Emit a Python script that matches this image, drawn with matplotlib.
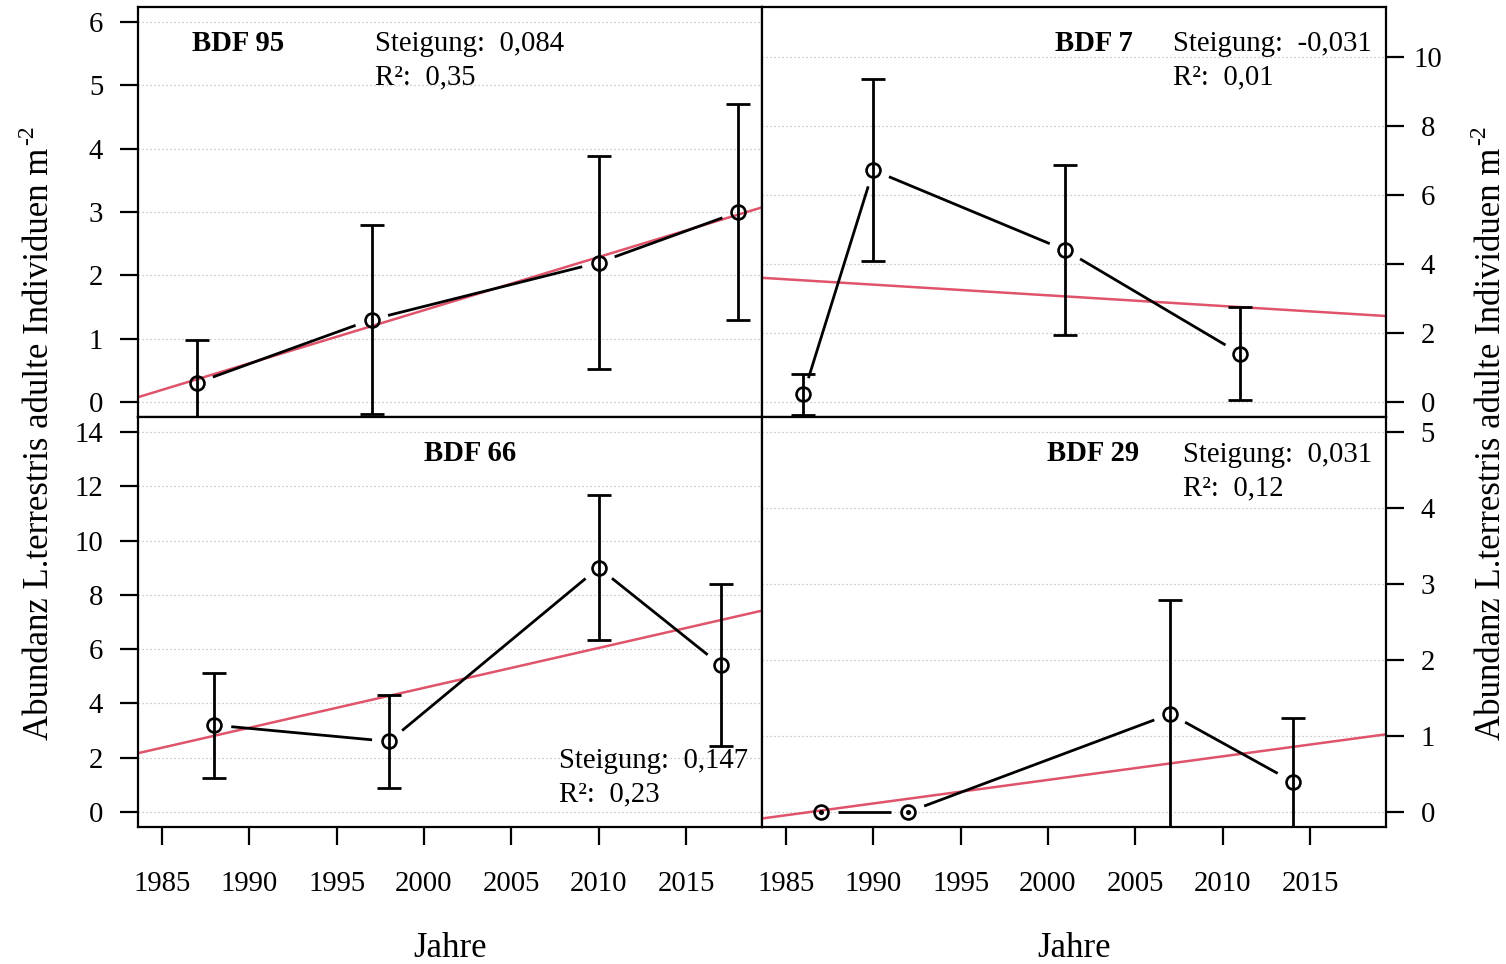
import numpy as np
import matplotlib
matplotlib.use("Agg")
import matplotlib.pyplot as plt

plt.rcParams['font.family'] = ['Liberation Serif', 'DejaVu Serif']

# ---- data: mean abundance (+/- SD) per sampling year and site ----
sites = ["BDF 95", "BDF 7", "BDF 66", "BDF 29"]

years_bdf95 = [1987, 1997, 2010, 2018]
mean_bdf95 = [0.30, 1.30, 2.20, 3.00]
sd_bdf95 = [0.68, 1.50, 1.68, 1.70]

years_bdf7 = [1986, 1990, 2001, 2011]
mean_bdf7 = [0.22, 6.72, 4.40, 1.40]
sd_bdf7 = [0.60, 2.64, 2.46, 1.35]

years_bdf66 = [1988, 1998, 2010, 2017]
mean_bdf66 = [3.20, 2.60, 9.00, 5.40]
sd_bdf66 = [1.93, 1.71, 2.67, 2.98]

years_bdf29 = [1987, 1992, 2007, 2014]
mean_bdf29 = [0.00, 0.00, 1.29, 0.40]
sd_bdf29 = [0.00, 0.00, 1.50, 0.84]

# linear trend per site
slopes = [0.084, -0.031, 0.147, 0.031]
r_squared = [0.35, 0.01, 0.23, 0.12]

year_ticks = [1985, 1990, 1995, 2000, 2005, 2010, 2015]
yticks_bdf95 = [0, 1, 2, 3, 4, 5, 6]
yticks_bdf7 = [0, 2, 4, 6, 8, 10]
yticks_bdf66 = [0, 2, 4, 6, 8, 10, 12, 14]
yticks_bdf29 = [0, 1, 2, 3, 4, 5]

years = [years_bdf95, years_bdf7, years_bdf66, years_bdf29]
means = [mean_bdf95, mean_bdf7, mean_bdf66, mean_bdf29]
sds = [sd_bdf95, sd_bdf7, sd_bdf66, sd_bdf29]
yticks = [yticks_bdf95, yticks_bdf7, yticks_bdf66, yticks_bdf29]

# ---- figure layout (pixel based) ----
W, H = 1506, 964
fig = plt.figure(figsize=(W / 100, H / 100), dpi=100)

def px_axes(x0, y0, x1, y1):
    return fig.add_axes([x0 / W, 1 - y1 / H, (x1 - x0) / W, (y1 - y0) / H])

panel_box = [(138, 7, 762, 417), (762, 7, 1386, 417),
             (138, 417, 762, 827), (762, 417, 1386, 827)]
ylims = [(-0.24, 6.24), (-0.435, 11.45), (-0.553, 14.55), (-0.197, 5.197)]
xlim = (1983.63, 2019.35)
trend_color = "#DF536B"
LW = 2.0
GAP = 17.0
FS = 20.7      # tick labels and panel text
FS_LAB = 25    # axis titles


def gapped_lines(ax, x, y, gap_px, **kw):
    """Connect points with segments that stop short of the markers."""
    pts = ax.transData.transform(np.column_stack([x, y]))
    inv = ax.transData.inverted()
    for p, q in zip(pts[:-1], pts[1:]):
        d = q - p
        length = np.hypot(*d)
        if length <= 2 * gap_px:
            continue
        u = d / length
        a, b = inv.transform(np.array([p + u * gap_px, q - u * gap_px]))
        ax.plot([a[0], b[0]], [a[1], b[1]], **kw)


def fmt(v, nd):
    return f"{v:.{nd}f}".replace(".", ",")


# text placement per panel
title_pos = [(192, 'left', 51), (1055, 'left', 51), (470, 'center', 461), (1047, 'left', 461)]
stats_pos = [(375, 51), (1173, 51), (559, 768), (1183, 462)]

axes = []
for i in range(4):
    x0, y0, x1, y1 = panel_box[i]
    ax = px_axes(x0, y0, x1, y1)
    axes.append(ax)
    ax.set_xlim(*xlim)
    ax.set_ylim(*ylims[i])
    ax.set_facecolor('white')
    for s in ax.spines.values():
        s.set_linewidth(1.6)
        s.set_color('black')

    ax.set_yticks(yticks[i])
    ax.yaxis.grid(True, linestyle=(0, (1, 2.2)), color='#bdbdbd', linewidth=0.9)
    ax.set_axisbelow(True)

    right = i % 2 == 1
    bottom = i >= 2
    if right:
        ax.tick_params(axis='y', left=False, labelleft=False, right=True, labelright=True,
                       direction='out', length=13, width=1.6, labelsize=FS, pad=17)
        ax.set_yticks(yticks[i], labels=[str(t) for t in yticks[i]], ha='center')
    else:
        ax.tick_params(axis='y', left=True, labelleft=True, right=False,
                       direction='out', length=13, width=1.6, labelsize=FS, pad=12)
    ax.set_xticks(year_ticks)
    if bottom:
        ax.tick_params(axis='x', bottom=True, labelbottom=True, direction='out',
                       length=13, width=1.6, labelsize=FS, pad=18.5)
    else:
        ax.tick_params(axis='x', bottom=False, labelbottom=False)

    x = np.array(years[i], dtype=float)
    m = np.array(means[i], dtype=float)
    e = np.array(sds[i], dtype=float)

    # trend line through the centroid of the means
    ax.axline((x.mean(), m.mean()), slope=slopes[i], color=trend_color, lw=1.8, zorder=2)

    # error bars
    nz = e > 0
    ax.errorbar(x[nz], m[nz], yerr=e[nz], fmt='none', ecolor='black',
                elinewidth=LW, capsize=8.8, capthick=LW, zorder=3)
    if (~nz).any():
        ax.plot(x[~nz], m[~nz], 'o', ms=2.6, color='black', zorder=3)

    # connecting lines and points
    gapped_lines(ax, x, m, GAP, color='black', lw=LW, solid_capstyle='butt', zorder=3)
    ax.plot(x, m, 'o', mfc='none', mec='black', ms=10, mew=1.9, zorder=4)

    # panel annotations
    tx, tha, tyb = title_pos[i]
    ax.text((tx - x0) / (x1 - x0), 1 - (tyb - y0) / (y1 - y0), sites[i],
            transform=ax.transAxes, ha=tha, va='baseline', fontsize=FS, fontweight='bold')
    sx, sy = stats_pos[i]
    ax.text((sx - x0) / (x1 - x0), 1 - (sy - y0) / (y1 - y0),
            f"Steigung:  {fmt(slopes[i], 3)}", transform=ax.transAxes,
            ha='left', va='baseline', fontsize=FS)
    ax.text((sx - x0) / (x1 - x0), 1 - (sy + 33 - y0) / (y1 - y0),
            f"R²:  {fmt(r_squared[i], 2)}", transform=ax.transAxes,
            ha='left', va='baseline', fontsize=FS)

# axis titles
fig.text(450 / W, 1 - 957 / H, "Jahre", ha='center', va='baseline', fontsize=FS_LAB)
fig.text(1074 / W, 1 - 957 / H, "Jahre", ha='center', va='baseline', fontsize=FS_LAB)

renderer = fig.canvas.get_renderer()
for base_x in (48, 1500):
    lab = fig.text(base_x / W, 1 - 740 / H, "Abundanz L.terrestris adulte Individuen m",
                   rotation=90, rotation_mode='anchor', ha='left', va='baseline',
                   fontsize=FS_LAB)
    bb = lab.get_window_extent(renderer)
    # superscript "-2" after the unit
    fig.text((base_x - 15) / W, (bb.y1 + 3) / H, "-2", rotation=90,
             rotation_mode='anchor', ha='left', va='baseline', fontsize=17)

fig.savefig("out.png", dpi=100, facecolor='white')
